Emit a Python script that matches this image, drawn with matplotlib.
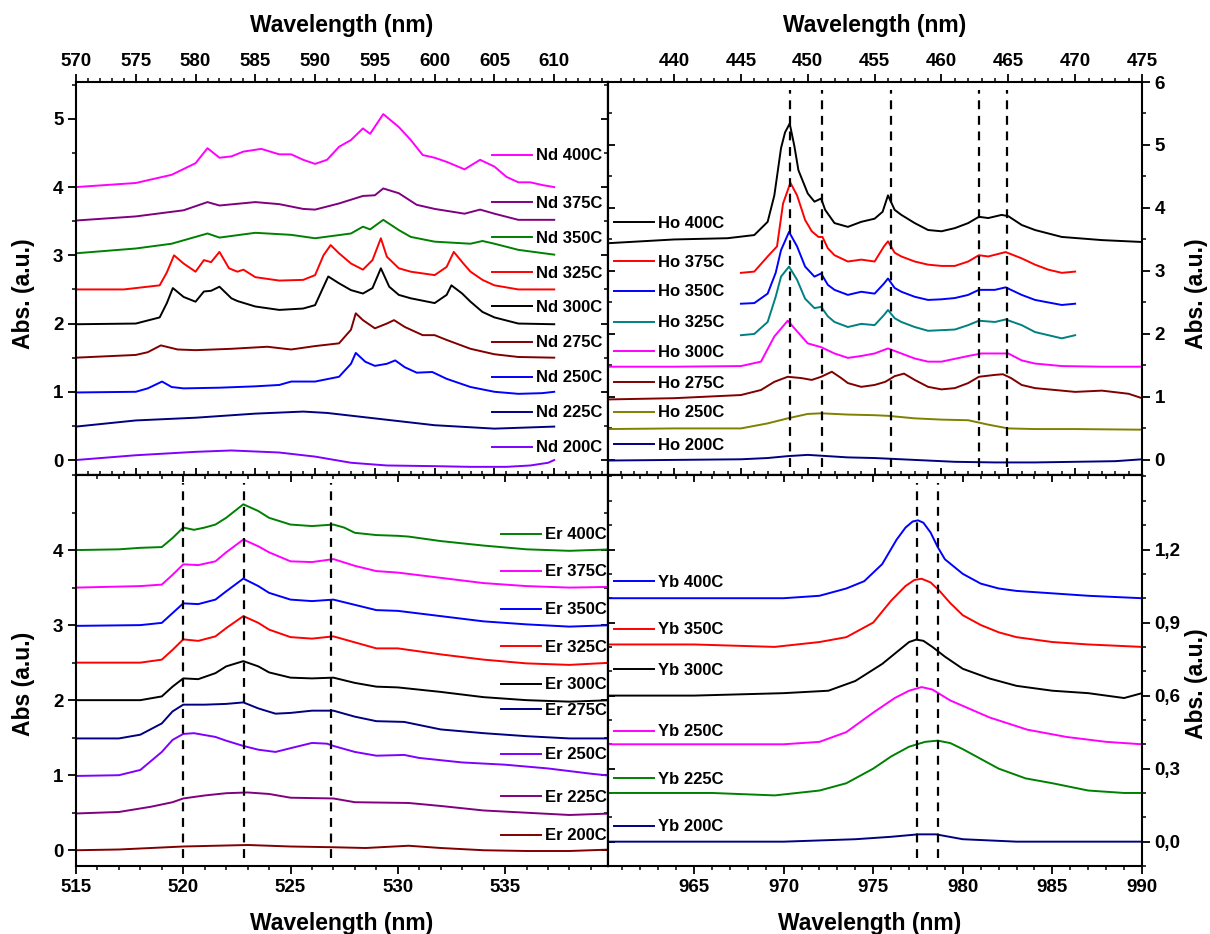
import matplotlib
matplotlib.use('Agg')
import matplotlib.pyplot as plt
from matplotlib.ticker import MultipleLocator, FuncFormatter, NullFormatter
from matplotlib.legend import Legend

plt.rcParams['font.family'] = ['Liberation Sans', 'DejaVu Sans']
plt.rcParams['font.weight'] = 'bold'
plt.rcParams['axes.linewidth'] = 1.5

# ---------------- Nd (570-610 nm) ----------------
nd400_wl = [570, 575, 578, 580, 581, 582, 583, 584, 585.5, 587, 588, 589, 590, 591, 592, 593, 594, 594.6, 595.7,
            597, 598, 599, 600, 601, 602.5, 603.8, 605, 606, 607, 608, 609, 610]
nd400_abs = [4.00, 4.06, 4.18, 4.35, 4.57, 4.43, 4.45, 4.52, 4.56, 4.48, 4.48, 4.40, 4.34, 4.40, 4.59, 4.69, 4.86, 4.78,
             5.07, 4.88, 4.69, 4.47, 4.43, 4.37, 4.26, 4.40, 4.30, 4.15, 4.07, 4.07, 4.03, 4.00]
nd375_wl = [570, 575, 579, 581, 582, 585, 587, 589, 590, 592, 594, 595, 595.7, 597, 598.5, 600, 602.5, 603.8, 605, 607, 610]
nd375_abs = [3.51, 3.57, 3.66, 3.78, 3.73, 3.78, 3.75, 3.68, 3.67, 3.76, 3.87, 3.88, 3.98, 3.91, 3.74, 3.68, 3.61, 3.67,
             3.61, 3.52, 3.52]
nd350_wl = [570, 575, 578, 581, 582, 585, 588, 590, 593, 594, 594.6, 595.7, 597, 598, 600, 602, 603, 604, 605, 607, 610]
nd350_abs = [3.03, 3.10, 3.17, 3.32, 3.26, 3.33, 3.30, 3.25, 3.32, 3.42, 3.38, 3.52, 3.37, 3.27, 3.20, 3.18, 3.17, 3.21,
             3.17, 3.08, 3.01]
nd325_wl = [570, 574, 577, 577.6, 578.2, 579, 580, 580.7, 581.3, 582, 582.8, 583.5, 584, 585, 587, 589, 590, 590.7, 591.3,
            592, 593, 594, 594.8, 595.5, 596, 597, 598, 600, 601, 601.6, 602.4, 603, 604, 605, 607, 610]
nd325_abs = [2.50, 2.50, 2.56, 2.75, 3.00, 2.88, 2.76, 2.93, 2.90, 3.05, 2.81, 2.76, 2.79, 2.68, 2.63, 2.64, 2.71, 3.00,
             3.15, 3.03, 2.88, 2.79, 2.93, 3.25, 2.98, 2.81, 2.76, 2.71, 2.83, 3.05, 2.88, 2.76, 2.64, 2.56, 2.50, 2.50]
nd300_wl = [570, 575, 577, 577.6, 578.1, 579, 580, 580.7, 581.3, 582, 583, 583.5, 585, 587, 589, 590, 590.6, 591.1, 592,
            593, 594, 594.8, 595.5, 596.2, 597, 598, 600, 601, 601.4, 602.3, 603, 604, 605, 607, 610]
nd300_abs = [1.99, 2.00, 2.09, 2.30, 2.52, 2.39, 2.32, 2.47, 2.48, 2.54, 2.37, 2.33, 2.25, 2.20, 2.22, 2.27, 2.50, 2.69,
             2.59, 2.49, 2.44, 2.52, 2.81, 2.54, 2.42, 2.37, 2.30, 2.42, 2.56, 2.44, 2.32, 2.17, 2.09, 2.00, 1.99]
nd275_wl = [570, 575, 576, 577.1, 578.5, 580, 583, 586, 588, 590, 592, 593, 593.4, 594, 595, 596, 596.6, 597.5, 599, 600,
            601, 603, 605, 607, 610]
nd275_abs = [1.50, 1.54, 1.58, 1.68, 1.62, 1.61, 1.63, 1.66, 1.62, 1.67, 1.71, 1.91, 2.15, 2.05, 1.93, 2.00, 2.05, 1.95,
             1.83, 1.83, 1.76, 1.63, 1.55, 1.51, 1.50]
nd250_wl = [570, 575, 576, 577.2, 578, 579, 582, 585, 587, 588, 590, 592, 593, 593.4, 594.2, 595, 596, 596.7, 597.5, 598.5,
            599.8, 601, 603, 605, 607, 609, 610]
nd250_abs = [0.99, 1.00, 1.05, 1.15, 1.07, 1.05, 1.06, 1.08, 1.10, 1.15, 1.15, 1.22, 1.41, 1.57, 1.44, 1.38, 1.41, 1.46,
             1.36, 1.28, 1.29, 1.19, 1.07, 1.00, 0.97, 0.98, 1.00]
nd225_wl = [570, 575, 580, 585, 589, 591, 595, 600, 605, 610]
nd225_abs = [0.49, 0.58, 0.62, 0.68, 0.71, 0.69, 0.61, 0.51, 0.46, 0.49]
nd200_wl = [570, 575, 580, 583, 587, 590, 593, 596, 600, 603, 606, 608, 609.5, 610]
nd200_abs = [0.00, 0.07, 0.12, 0.14, 0.11, 0.05, -0.04, -0.08, -0.09, -0.10, -0.10, -0.08, -0.04, 0.00]

# ---------------- Ho (435-475 nm) ----------------
ho400_wl = [435, 440, 444, 446, 447, 447.5, 448, 448.3, 448.65, 449, 449.3, 450, 450.5, 451, 451.3, 452, 453, 454, 455,
            455.6, 456, 456.5, 457, 458, 459, 460, 461, 462, 462.8, 463.5, 464.5, 465, 466, 467, 469, 472, 475]
ho400_abs = [3.44, 3.50, 3.52, 3.57, 3.78, 4.20, 4.95, 5.20, 5.34, 4.98, 4.60, 4.23, 4.10, 4.15, 3.97, 3.76, 3.70, 3.78,
             3.83, 3.94, 4.20, 3.97, 3.89, 3.76, 3.65, 3.63, 3.68, 3.76, 3.86, 3.84, 3.89, 3.87, 3.73, 3.65, 3.54, 3.49, 3.46]
ho375_wl = [445, 446, 447, 447.7, 448.15, 448.7, 449.2, 449.8, 450.3, 450.8, 451.1, 451.5, 452, 453, 454, 455, 455.7, 456,
            456.5, 457, 458, 459, 460, 461, 462, 462.8, 463.5, 464.8, 466, 467, 468, 469, 470]
ho375_abs = [2.97, 2.99, 3.23, 3.39, 4.07, 4.40, 4.20, 3.81, 3.63, 3.54, 3.54, 3.36, 3.25, 3.15, 3.18, 3.15, 3.39, 3.47,
             3.29, 3.23, 3.15, 3.10, 3.08, 3.08, 3.15, 3.25, 3.23, 3.30, 3.20, 3.10, 3.02, 2.97, 2.99]
ho350_wl = [445, 446, 447, 447.6, 448, 448.6, 449.2, 449.8, 450.5, 451, 451.5, 452, 453, 454, 455, 455.7, 456, 456.5, 457,
            458, 459, 460, 461, 462, 462.8, 464, 464.8, 466, 467, 469, 470]
ho350_abs = [2.48, 2.49, 2.64, 2.97, 3.33, 3.62, 3.39, 3.07, 2.91, 2.96, 2.78, 2.70, 2.62, 2.67, 2.64, 2.80, 2.88, 2.73,
             2.67, 2.59, 2.54, 2.55, 2.57, 2.62, 2.70, 2.70, 2.74, 2.62, 2.54, 2.46, 2.48]
ho325_wl = [445, 446, 447, 447.6, 448, 448.6, 449.2, 449.8, 450.5, 451, 451.5, 452, 453, 454, 455, 455.7, 456, 456.5, 457,
            458, 459, 460, 461, 462, 462.8, 464, 464.8, 466, 467, 469, 470]
ho325_abs = [1.98, 2.00, 2.19, 2.59, 2.91, 3.07, 2.86, 2.56, 2.41, 2.43, 2.28, 2.19, 2.11, 2.16, 2.14, 2.30, 2.38, 2.25,
             2.19, 2.11, 2.05, 2.06, 2.07, 2.14, 2.21, 2.19, 2.23, 2.14, 2.03, 1.93, 1.98]
ho300_wl = [435, 440, 445, 446.5, 447.5, 448.5, 449, 450, 451, 452, 453, 454, 455, 456, 457, 458, 459, 460, 462, 463, 465,
            466, 467, 469, 472, 475]
ho300_abs = [1.48, 1.48, 1.49, 1.56, 1.96, 2.21, 2.09, 1.85, 1.79, 1.69, 1.62, 1.65, 1.69, 1.77, 1.69, 1.61, 1.56, 1.56,
             1.65, 1.69, 1.69, 1.58, 1.53, 1.49, 1.48, 1.48]
ho275_wl = [435, 440, 445, 446.5, 447.5, 448.5, 449.5, 450.3, 451, 451.8, 452.5, 453, 454, 455, 455.8, 456.5, 457.2, 458,
            459, 460, 461, 462, 462.8, 464, 464.6, 465.2, 466, 467, 470, 472, 474, 475]
ho275_abs = [0.96, 0.98, 1.03, 1.11, 1.24, 1.32, 1.30, 1.27, 1.32, 1.40, 1.30, 1.22, 1.16, 1.19, 1.24, 1.33, 1.37, 1.27,
             1.16, 1.12, 1.14, 1.22, 1.32, 1.35, 1.36, 1.30, 1.19, 1.14, 1.08, 1.10, 1.05, 0.98]
ho250_wl = [435, 440, 445, 447, 448.5, 450, 451, 453, 455, 456, 458, 460, 462, 463.5, 465, 467, 470, 475]
ho250_abs = [0.49, 0.50, 0.50, 0.58, 0.66, 0.73, 0.74, 0.72, 0.71, 0.70, 0.66, 0.64, 0.63, 0.56, 0.50, 0.49, 0.49, 0.48]
ho200_wl = [435, 440, 445, 447, 448.5, 450, 451.5, 453, 455, 458, 461, 464, 467, 470, 473, 475]
ho200_abs = [-0.01, 0.00, 0.01, 0.03, 0.06, 0.08, 0.06, 0.04, 0.03, 0.00, -0.03, -0.04, -0.04, -0.03, -0.02, 0.01]

# ---------------- Er (515-540 nm) ----------------
er_wl = [515, 518, 519, 519.5, 520, 520.7, 521.5, 522, 522.8, 523.5, 524, 525, 526, 527, 528, 529, 530, 532, 534, 536,
         538, 540]
er400_wl = [515, 517, 518, 519, 519.5, 520, 520.5, 521, 521.5, 522, 522.8, 523.5, 524, 525, 526, 527, 527.5, 528, 529,
            530, 530.5, 532, 534, 536, 538, 540]
er400_abs = [4.00, 4.01, 4.03, 4.04, 4.16, 4.30, 4.27, 4.30, 4.34, 4.43, 4.61, 4.52, 4.43, 4.34, 4.32, 4.34, 4.30, 4.23,
             4.20, 4.19, 4.18, 4.12, 4.06, 4.01, 3.99, 4.01]
er375_abs = [3.50, 3.52, 3.54, 3.67, 3.81, 3.80, 3.85, 3.97, 4.14, 4.05, 3.97, 3.85, 3.84, 3.88, 3.79, 3.72, 3.70, 3.63,
             3.56, 3.52, 3.50, 3.51]
er350_abs = [2.99, 3.00, 3.03, 3.16, 3.29, 3.28, 3.34, 3.45, 3.62, 3.52, 3.43, 3.34, 3.32, 3.34, 3.27, 3.20, 3.19, 3.12,
             3.05, 3.01, 2.98, 3.00]
er325_abs = [2.50, 2.50, 2.54, 2.67, 2.81, 2.79, 2.85, 2.96, 3.12, 3.03, 2.94, 2.84, 2.82, 2.85, 2.77, 2.69, 2.69, 2.61,
             2.54, 2.49, 2.47, 2.50]
er300_abs = [2.00, 2.00, 2.05, 2.18, 2.29, 2.28, 2.36, 2.45, 2.52, 2.45, 2.37, 2.30, 2.29, 2.30, 2.23, 2.18, 2.17, 2.11,
             2.04, 2.00, 1.98, 2.00]
er275_wl = [515, 517, 518, 519, 519.5, 520, 521, 522, 522.8, 523.5, 524.3, 525, 526, 527, 528, 529, 530.3, 532, 534, 536,
            538, 540]
er275_abs = [1.49, 1.49, 1.54, 1.69, 1.85, 1.94, 1.94, 1.95, 1.97, 1.89, 1.82, 1.83, 1.86, 1.86, 1.78, 1.72, 1.71, 1.61,
             1.56, 1.52, 1.49, 1.49]
er250_wl = [515, 517, 518, 519, 519.5, 520, 520.5, 521.5, 522, 522.8, 523.5, 524.3, 525, 526, 526.7, 527, 528, 529, 530.3,
            531, 533, 535, 537, 539, 540]
er250_abs = [0.99, 1.00, 1.07, 1.31, 1.47, 1.55, 1.56, 1.51, 1.46, 1.39, 1.34, 1.31, 1.36, 1.43, 1.42, 1.39, 1.31, 1.26,
             1.27, 1.23, 1.17, 1.14, 1.09, 1.02, 0.99]
er225_wl = [515, 517, 518.5, 519.5, 520, 521, 522, 523, 524, 525, 527, 528, 530.5, 532, 534, 536, 538, 540]
er225_abs = [0.49, 0.51, 0.58, 0.64, 0.69, 0.73, 0.76, 0.77, 0.75, 0.70, 0.69, 0.64, 0.63, 0.59, 0.53, 0.50, 0.47, 0.49]
er200_wl = [515, 517, 520, 523, 525, 527, 528.5, 530.5, 532, 534, 536, 538, 540]
er200_abs = [0.00, 0.01, 0.05, 0.07, 0.05, 0.04, 0.03, 0.06, 0.03, 0.00, -0.01, -0.01, 0.01]

# ---------------- Yb (960-990 nm) ----------------
yb400_wl = [960, 965, 970, 972, 973.5, 974.5, 975.5, 976.3, 976.8, 977.2, 977.5, 977.8, 978.2, 978.6, 979, 980, 981, 982,
            983, 985, 987, 990]
yb400_abs = [1.00, 1.00, 1.00, 1.01, 1.04, 1.07, 1.14, 1.24, 1.29, 1.315, 1.32, 1.31, 1.27, 1.21, 1.16, 1.10, 1.06, 1.04,
             1.03, 1.02, 1.01, 1.00]
yb350_wl = [960, 965, 969.5, 972, 973.5, 975, 976, 976.8, 977.3, 977.7, 978.2, 978.7, 979.3, 980, 981, 982, 983, 985, 987,
            990]
yb350_abs = [0.81, 0.81, 0.80, 0.82, 0.84, 0.90, 0.99, 1.05, 1.075, 1.08, 1.065, 1.03, 0.98, 0.93, 0.89, 0.86, 0.84, 0.82,
             0.81, 0.80]
yb300_wl = [960, 965, 970, 972.5, 974, 975.5, 976.5, 977, 977.4, 977.8, 978.3, 979, 980, 981.5, 983, 985, 987, 989, 990]
yb300_abs = [0.60, 0.60, 0.61, 0.62, 0.66, 0.73, 0.79, 0.82, 0.83, 0.825, 0.80, 0.76, 0.71, 0.67, 0.64, 0.62, 0.61, 0.59,
             0.61]
yb250_wl = [960, 965, 970, 972, 973.5, 975, 976.2, 977, 977.7, 978.3, 979.3, 981.5, 983.6, 985.8, 988, 990]
yb250_abs = [0.40, 0.40, 0.40, 0.41, 0.45, 0.53, 0.59, 0.62, 0.635, 0.625, 0.58, 0.51, 0.46, 0.43, 0.41, 0.40]
yb225_wl = [960, 963, 966, 969.5, 972, 973.5, 975, 976, 977, 977.9, 978.6, 979.3, 980, 981, 982, 983.5, 985, 987, 989, 990]
yb225_abs = [0.20, 0.20, 0.20, 0.19, 0.21, 0.24, 0.30, 0.35, 0.39, 0.41, 0.415, 0.405, 0.38, 0.34, 0.30, 0.26, 0.24, 0.21,
             0.20, 0.20]
yb200_wl = [960, 965, 970, 974, 976, 977.5, 978.5, 980, 983, 990]
yb200_abs = [0.00, 0.00, 0.00, 0.01, 0.02, 0.03, 0.03, 0.01, 0.00, 0.00]

# dashed reference lines (nm)
ho_marks = [448.7, 451.1, 456.2, 462.8, 464.9]
er_marks = [520.0, 522.85, 526.9]
yb_marks = [977.45, 978.6]

nd_series = [('Nd 400C', nd400_wl, nd400_abs, '#ff00ff'), ('Nd 375C', nd375_wl, nd375_abs, '#800080'),
             ('Nd 350C', nd350_wl, nd350_abs, '#008000'), ('Nd 325C', nd325_wl, nd325_abs, '#ff0000'),
             ('Nd 300C', nd300_wl, nd300_abs, '#000000'), ('Nd 275C', nd275_wl, nd275_abs, '#800000'),
             ('Nd 250C', nd250_wl, nd250_abs, '#0000ff'), ('Nd 225C', nd225_wl, nd225_abs, '#000080'),
             ('Nd 200C', nd200_wl, nd200_abs, '#8000ff')]
ho_series = [('Ho 400C', ho400_wl, ho400_abs, '#000000'), ('Ho 375C', ho375_wl, ho375_abs, '#ff0000'),
             ('Ho 350C', ho350_wl, ho350_abs, '#0000ff'), ('Ho 325C', ho325_wl, ho325_abs, '#008080'),
             ('Ho 300C', ho300_wl, ho300_abs, '#ff00ff'), ('Ho 275C', ho275_wl, ho275_abs, '#800000'),
             ('Ho 250C', ho250_wl, ho250_abs, '#808000'), ('Ho 200C', ho200_wl, ho200_abs, '#000080')]
er_series = [('Er 400C', er400_wl, er400_abs, '#008000'), ('Er 375C', er_wl, er375_abs, '#ff00ff'),
             ('Er 350C', er_wl, er350_abs, '#0000ff'), ('Er 325C', er_wl, er325_abs, '#ff0000'),
             ('Er 300C', er_wl, er300_abs, '#000000'), ('Er 275C', er275_wl, er275_abs, '#000080'),
             ('Er 250C', er250_wl, er250_abs, '#8000ff'), ('Er 225C', er225_wl, er225_abs, '#800080'),
             ('Er 200C', er200_wl, er200_abs, '#800000')]
yb_series = [('Yb 400C', yb400_wl, yb400_abs, '#0000ff'), ('Yb 350C', yb350_wl, yb350_abs, '#ff0000'),
             ('Yb 300C', yb300_wl, yb300_abs, '#000000'), ('Yb 250C', yb250_wl, yb250_abs, '#ff00ff'),
             ('Yb 225C', yb225_wl, yb225_abs, '#008000'), ('Yb 200C', yb200_wl, yb200_abs, '#000080')]

# legend placement (axes fraction)
nd_key = (0.782, [0.812, 0.692, 0.603, 0.514, 0.427, 0.336, 0.247, 0.158, 0.069])
ho_key = (0.011, [0.641, 0.542, 0.466, 0.387, 0.313, 0.234, 0.158, 0.076])
er_key = (0.799, [0.847, 0.752, 0.655, 0.560, 0.463, 0.399, 0.284, 0.176, 0.077])
yb_key = (0.011, [0.726, 0.604, 0.501, 0.343, 0.222, 0.100])

fig = plt.figure(figsize=(12.1, 9.34), dpi=100)
ax_nd = fig.add_axes([0.0628, 0.4914, 0.4397, 0.4208])
ax_ho = fig.add_axes([0.5025, 0.4914, 0.4413, 0.4208])
ax_er = fig.add_axes([0.0628, 0.0728, 0.4397, 0.4186])
ax_yb = fig.add_axes([0.5025, 0.0728, 0.4413, 0.4186])


def draw(ax, series, key):
    kx, ky = key
    for (label, wl, ab, color), y in zip(series, ky):
        line, = ax.plot(wl, ab, color=color, lw=1.4)
        leg = Legend(ax, [line], [label], loc='center left', bbox_to_anchor=(kx, y), frameon=False,
                     handlelength=2.4, handletextpad=0.25, borderpad=0, borderaxespad=0,
                     prop={'size': 12, 'weight': 'bold'})
        ax.add_artist(leg)


def frame(ax, xside, yside, xlim, ylim, xticks, yticks, xminor, yminor):
    ax.set_xlim(xlim)
    ax.set_ylim(ylim)
    ax.set_xticks(xticks)
    ax.set_yticks(yticks)
    ax.xaxis.set_minor_locator(MultipleLocator(xminor))
    ax.yaxis.set_minor_locator(MultipleLocator(yminor))
    ax.xaxis.set_ticks_position(xside)
    ax.xaxis.set_label_position(xside)
    ax.yaxis.set_ticks_position(yside)
    ax.yaxis.set_label_position(yside)
    ax.tick_params(which='major', direction='out', length=5.5, width=1.3, labelsize=13.5, pad=3.5)
    ax.tick_params(which='minor', direction='out', length=2.8, width=1.1)
    sx = ax.secondary_xaxis('bottom' if xside == 'top' else 'top')
    sx.set_xticks(xticks)
    sx.xaxis.set_minor_locator(MultipleLocator(xminor))
    sx.xaxis.set_major_formatter(NullFormatter())
    sx.tick_params(which='major', direction='in', length=5, width=1.3)
    sx.tick_params(which='minor', direction='in', length=2.8, width=1.1)
    sy = ax.secondary_yaxis('left' if yside == 'right' else 'right')
    sy.set_yticks(yticks)
    sy.yaxis.set_minor_locator(MultipleLocator(yminor))
    sy.yaxis.set_major_formatter(NullFormatter())
    sy.tick_params(which='major', direction='in', length=5, width=1.3)
    sy.tick_params(which='minor', direction='in', length=2.8, width=1.1)
    for s in list(sx.spines.values()) + list(sy.spines.values()):
        s.set_linewidth(1.5)


draw(ax_nd, nd_series, nd_key)
draw(ax_ho, ho_series, ho_key)
draw(ax_er, er_series, er_key)
draw(ax_yb, yb_series, yb_key)

for x in ho_marks:
    ax_ho.axvline(x, ymin=0.02, ymax=0.98, color='black', lw=1.6, ls=(0, (4, 3)))
for x in er_marks:
    ax_er.axvline(x, ymin=0.02, ymax=0.98, color='black', lw=1.6, ls=(0, (4, 3)))
for x in yb_marks:
    ax_yb.axvline(x, ymin=0.02, ymax=0.98, color='black', lw=1.6, ls=(0, (4, 3)))

frame(ax_nd, 'top', 'left', (570, 614.5), (-0.22, 5.54), range(570, 611, 5), range(0, 6), 1, 0.5)
frame(ax_ho, 'top', 'right', (435.06, 475), (-0.24, 6.0), range(440, 476, 5), range(0, 7), 1, 0.5)
frame(ax_er, 'bottom', 'left', (515, 539.8), (-0.21, 5.0), range(515, 536, 5), range(0, 5), 1, 0.5)
frame(ax_yb, 'bottom', 'right', (960.2, 990), (-0.1, 1.506), range(965, 991, 5), [0, 0.3, 0.6, 0.9, 1.2], 1, 0.1)
ax_yb.yaxis.set_major_formatter(FuncFormatter(lambda v, p: ('%.1f' % abs(v) if abs(v) < 1e-9 else '%.1f' % v).replace('.', ',')))

lab = {'fontsize': 16.5, 'fontweight': 'bold'}
ax_nd.set_xlabel('Wavelength (nm)', **lab)
ax_ho.set_xlabel('Wavelength (nm)', **lab)
ax_er.set_xlabel('Wavelength (nm)', **lab)
ax_yb.set_xlabel('Wavelength (nm)', **lab)
ax_nd.set_ylabel('Abs. (a.u.)', **lab)
ax_er.set_ylabel('Abs (a.u.)', **lab)
ax_ho.set_ylabel('Abs. (a.u.)', **lab)
ax_yb.set_ylabel('Abs. (a.u.)', **lab)

ax_nd.xaxis.set_label_coords(0.5, 1.1285)
ax_ho.xaxis.set_label_coords(0.5, 1.1285)
ax_er.xaxis.set_label_coords(0.5, -0.164)
ax_yb.xaxis.set_label_coords(0.49, -0.164)
ax_nd.yaxis.set_label_coords(-0.087, 0.4606)
ax_er.yaxis.set_label_coords(-0.087, 0.4655)
ax_ho.yaxis.set_label_coords(1.114, 0.4606)
ax_yb.yaxis.set_label_coords(1.114, 0.4655)
for a in (ax_nd, ax_ho, ax_er, ax_yb):
    a.xaxis.label.set_va('baseline')
    a.yaxis.label.set_va('baseline')

fig.savefig('out.png', dpi=100)
